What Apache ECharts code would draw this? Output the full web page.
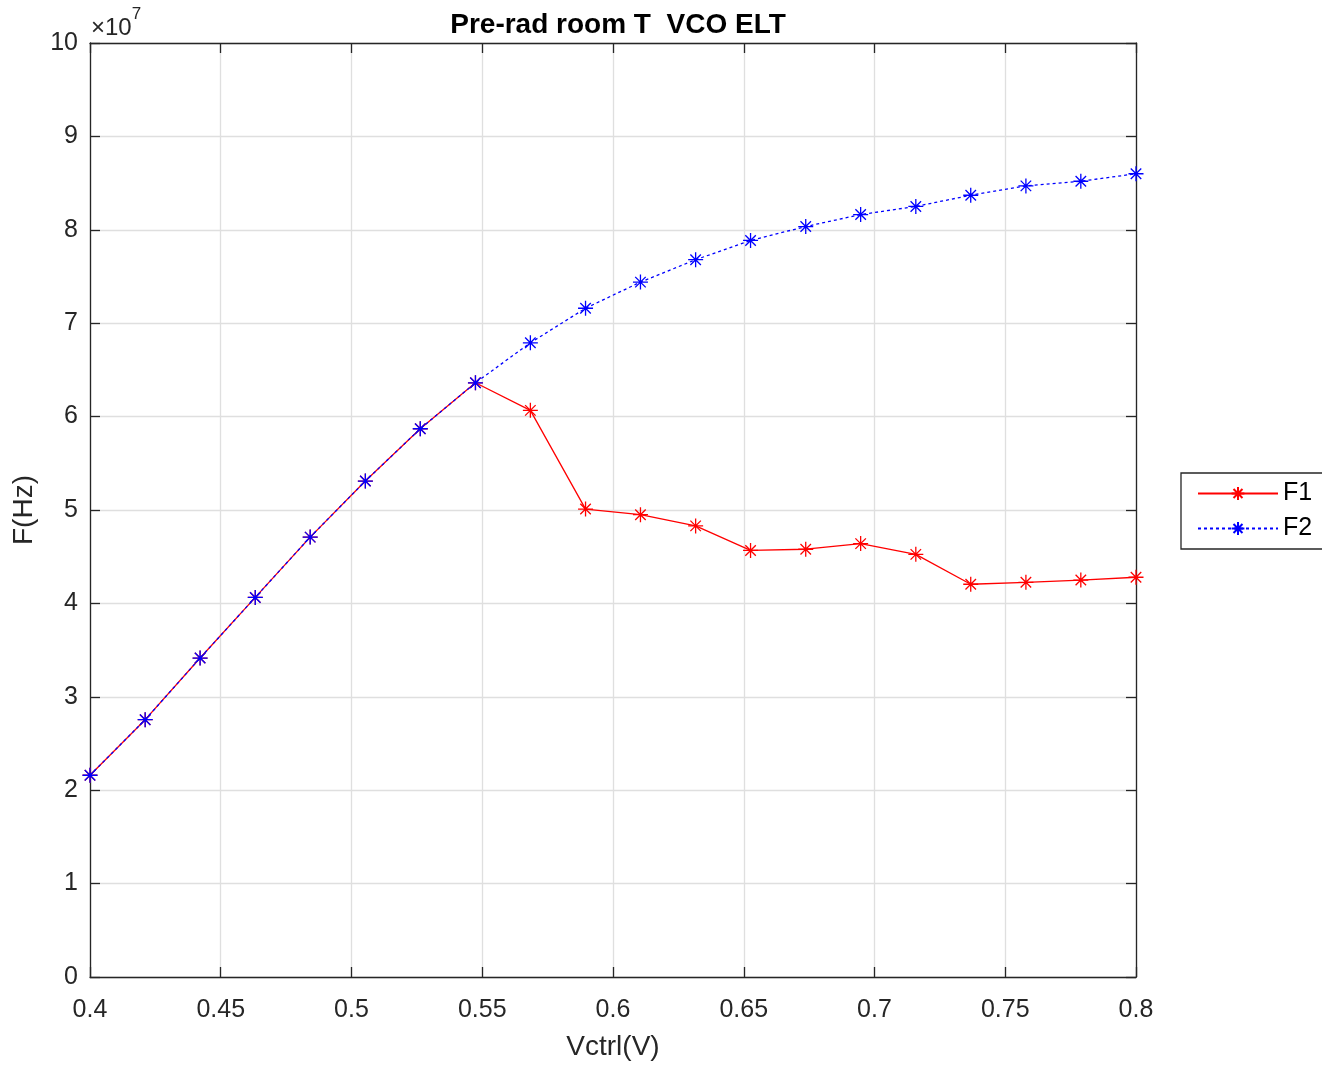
<!DOCTYPE html>
<html>
<head>
<meta charset="utf-8">
<script src="https://cdn.jsdelivr.net/npm/echarts@6/dist/echarts.min.js"></script>
<style>html,body{margin:0;padding:0;background:#fff;}#c{width:1322px;height:1066px;}</style>
</head>
<body>
<div id="c"></div>
<script>
const vctrl = [0.4, 0.4211, 0.4421, 0.4632, 0.4842, 0.5053, 0.5263, 0.5474, 0.5684, 0.5895,
               0.6105, 0.6316, 0.6526, 0.6737, 0.6947, 0.7158, 0.7368, 0.7579, 0.7789, 0.8];
const f1 = [2.16e7, 2.755e7, 3.415e7, 4.064e7, 4.71e7, 5.31e7, 5.87e7, 6.362e7, 6.067e7, 5.01e7,
            4.95e7, 4.83e7, 4.567e7, 4.58e7, 4.64e7, 4.525e7, 4.205e7, 4.226e7, 4.25e7, 4.28e7];
const f2 = [2.16e7, 2.755e7, 3.415e7, 4.064e7, 4.71e7, 5.31e7, 5.87e7, 6.362e7, 6.79e7, 7.16e7,
            7.44e7, 7.68e7, 7.886e7, 8.035e7, 8.163e7, 8.25e7, 8.37e7, 8.47e7, 8.52e7, 8.60e7];
const seriesNames = ['F1', 'F2'];
const titleText = 'Pre-rad room T  VCO ELT';

const FONT = "'Liberation Sans', Arial, Helvetica, sans-serif";
const TXT = '#262626';
const star = 'path://M10 0 L10 20 M0 10 L20 10 M3 3 L17 17 M17 3 L3 17';

const chart = echarts.init(document.getElementById('c'), null, {renderer: 'canvas'});
const axisCommon = {
  axisLine: {show: true, onZero: false, lineStyle: {color: TXT, width: 1.3}},
  axisTick: {show: true, inside: true, length: 10, lineStyle: {color: TXT, width: 1.3}}
};
chart.setOption({
  animation: false,
  backgroundColor: '#fff',
  textStyle: {fontFamily: FONT, color: TXT},
  title: {
    text: titleText, left: 613, top: 6, textAlign: 'center',
    textStyle: {fontFamily: FONT, fontWeight: 'bold', fontSize: 28, color: '#000'}
  },
  graphic: [{
    type: 'text', left: 91, top: 6,
    style: {
      text: '{a|×10}{b|7}',
      rich: {
        a: {fontFamily: FONT, fontSize: 24, fill: TXT, padding: [10, 0, 0, 0]},
        b: {fontFamily: FONT, fontSize: 17, fill: TXT, verticalAlign: 'top'}
      }
    }
  }],
  legend: {
    orient: 'vertical', left: 1181, top: 473,
    data: seriesNames,
    backgroundColor: '#fff',
    borderColor: TXT, borderWidth: 1.3,
    padding: [8, 12, 8, 16],
    itemWidth: 80, itemHeight: 16, itemGap: 10,
    textStyle: {fontFamily: FONT, fontSize: 25, color: '#000'}
  },
  grid: {left: 90, top: 43, width: 1046, height: 938, containLabel: false},
  xAxis: [Object.assign({
    type: 'value', min: 0.4, max: 0.8, interval: 0.05, position: 'bottom',
    name: 'Vctrl(V)', nameLocation: 'middle', nameGap: 56,
    nameTextStyle: {fontFamily: FONT, fontSize: 28, color: TXT},
    axisLabel: {fontFamily: FONT, fontSize: 25, color: TXT, margin: 21,
      formatter: v => String(parseFloat(v.toFixed(4)))},
    splitLine: {show: true, lineStyle: {color: '#dfdfdf', width: 1.3}}
  }, axisCommon), Object.assign({
    type: 'value', min: 0.4, max: 0.8, interval: 0.05, position: 'top',
    axisLabel: {show: false}, splitLine: {show: false}
  }, axisCommon)],
  yAxis: [Object.assign({
    type: 'value', min: 0, max: 1e8, interval: 1e7, position: 'left',
    name: 'F(Hz)', nameLocation: 'middle', nameGap: 52, nameRotate: 90,
    nameTextStyle: {fontFamily: FONT, fontSize: 28, color: TXT},
    axisLabel: {fontFamily: FONT, fontSize: 25, color: TXT, margin: 12,
      formatter: v => String(Math.round(v / 1e7))},
    splitLine: {show: true, lineStyle: {color: '#dfdfdf', width: 1.3}}
  }, axisCommon), Object.assign({
    type: 'value', min: 0, max: 1e8, interval: 1e7, position: 'right',
    axisLabel: {show: false}, splitLine: {show: false}
  }, axisCommon)],
  series: [{
    name: seriesNames[0], type: 'line',
    data: vctrl.map((x, i) => [x, f1[i]]),
    symbol: star, symbolSize: 15, showAllSymbol: true,
    lineStyle: {color: '#ff0000', width: 1.3, type: 'solid'},
    itemStyle: {color: 'none', borderColor: '#ff0000', borderWidth: 1.3},
    z: 2
  }, {
    name: seriesNames[1], type: 'line',
    data: vctrl.map((x, i) => [x, f2[i]]),
    symbol: star, symbolSize: 15, showAllSymbol: true,
    lineStyle: {color: '#0000ff', width: 1.3, type: [3, 3]},
    itemStyle: {color: 'none', borderColor: '#0000ff', borderWidth: 1.3},
    z: 3
  }]
});
</script>
</body>
</html>
